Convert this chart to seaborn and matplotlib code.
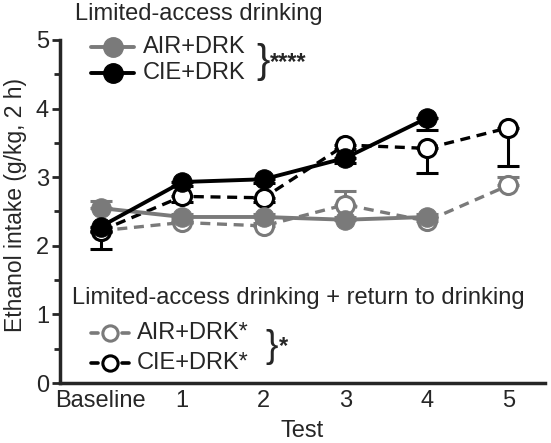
import numpy as np
import pandas as pd
import matplotlib
matplotlib.use("Agg")
import matplotlib.pyplot as plt
from matplotlib.lines import Line2D
from matplotlib.ticker import MultipleLocator
import seaborn as sns

# ---- data ----
tick_labels = ["Baseline", "1", "2", "3", "4", "5"]

air_drk = [2.55, 2.42, 2.42, 2.38, 2.42]
air_drk_err = [0.10, 0.04, 0.04, 0.04, 0.04]      # drawn upward
cie_drk = [2.28, 2.93, 2.97, 3.28, 3.86]
cie_drk_err = [0.08, 0.06, 0.06, 0.08, 0.17]      # drawn downward

air_rtd = [2.22, 2.34, 2.29, 2.60, 2.36, 2.88]
air_rtd_err = [0.04, 0.04, 0.04, 0.20, 0.04, 0.13]  # upward
cie_rtd = [2.22, 2.72, 2.70, 3.47, 3.42, 3.72]
cie_rtd_err = [0.26, 0.08, 0.06, 0.06, 0.36, 0.55]  # downward

gray = "#7a7a7a"
black = "#000000"
W, H = 551, 443
FS = 17

sns.set_style("ticks")
plt.rcParams["font.family"] = ["Liberation Sans", "DejaVu Sans"]

fig, ax = plt.subplots(figsize=(W / 100, H / 100), dpi=100)
fig.subplots_adjust(left=60 / W, right=545 / W, bottom=1 - 383 / H, top=1 - 40 / H)

x_all = np.arange(len(tick_labels))
x_short = np.arange(len(air_drk))

ms = 14
# return-to-drinking series (open, dashed) drawn first
for vals, errs, col, z in [(air_rtd, air_rtd_err, gray, 2), (cie_rtd, cie_rtd_err, black, 3)]:
    up = col == gray
    zero = np.zeros(len(errs))
    ax.errorbar(x_all, vals, yerr=[zero if up else errs, errs if up else zero],
                fmt="none", ecolor=col, elinewidth=2.2, capsize=8, capthick=2.2, zorder=z)
    sns.lineplot(x=x_all, y=vals, ax=ax, color=col, linewidth=2.4, linestyle=(0, (3, 2)),
                 marker="o", markersize=ms - 1, markerfacecolor="white", markeredgecolor=col,
                 markeredgewidth=2.2, zorder=z)

for vals, errs, col, z in [(air_drk, air_drk_err, gray, 4), (cie_drk, cie_drk_err, black, 5)]:
    up = col == gray
    zero = np.zeros(len(errs))
    ax.errorbar(x_short, vals, yerr=[zero if up else errs, errs if up else zero],
                fmt="none", ecolor=col, elinewidth=2.2, capsize=8, capthick=2.2, zorder=z)
    sns.lineplot(x=x_short, y=vals, ax=ax, color=col, linewidth=2.8,
                 marker="o", markersize=ms, markerfacecolor=col, markeredgecolor=col, zorder=z)

ax.set_xlim(-0.5, 5.45)
ax.set_ylim(0, 5)
ax.set_xticks(x_all)
ax.set_xticklabels(tick_labels, fontsize=FS)
ax.yaxis.set_major_locator(MultipleLocator(1))
ax.yaxis.set_minor_locator(MultipleLocator(0.5))
ax.tick_params(axis="y", which="major", labelsize=FS, width=2, length=6, direction="out", pad=2)
ax.tick_params(axis="y", which="minor", width=2, length=4, direction="out")
ax.tick_params(axis="x", length=0, pad=5)
ax.set_xlabel("Test", fontsize=FS, labelpad=6)
ax.set_ylabel("Ethanol intake (g/kg, 2 h)", fontsize=16.5)
ax.yaxis.set_label_coords(-0.068, 0.52)
sns.despine(ax=ax)
for s in ["left", "bottom"]:
    ax.spines[s].set_linewidth(2.5)


# ---- hand-placed legends (pixel positions from top-left) ----
def fx(px):
    return px / W


def fy(py):
    return 1 - py / H


def txt(px, py, s, size=FS, **kw):
    fig.text(fx(px), fy(py), s, va="center", ha="left", fontsize=size, **kw)


txt(75, 14, "Limited-access drinking")
for py, col, lab in [(47, gray, "AIR+DRK"), (73, black, "CIE+DRK")]:
    fig.add_artist(Line2D([fx(91), fx(134)], [fy(py), fy(py)], color=col, lw=2.8))
    fig.add_artist(Line2D([fx(113)], [fy(py)], color=col, marker="o", ms=ms))
    txt(143, py, lab)
txt(256, 62, "}", size=29)
txt(270, 63, "****", fontweight="bold")

txt(72, 298, "Limited-access drinking + return to drinking")
for py, col, lab in [(333, gray, "AIR+DRK*"), (363, black, "CIE+DRK*")]:
    fig.add_artist(Line2D([fx(91), fx(98)], [fy(py), fy(py)], color=col, lw=2.6))
    fig.add_artist(Line2D([fx(122), fx(129)], [fy(py), fy(py)], color=col, lw=2.6))
    fig.add_artist(Line2D([fx(110)], [fy(py)], color=col, marker="o", ms=11,
                          mfc="white", mec=col, mew=2.2))
    txt(137, py, lab)
txt(265, 347, "}", size=27)
txt(279, 347, "*", fontweight="bold")

fig.savefig("out.png", dpi=100)
